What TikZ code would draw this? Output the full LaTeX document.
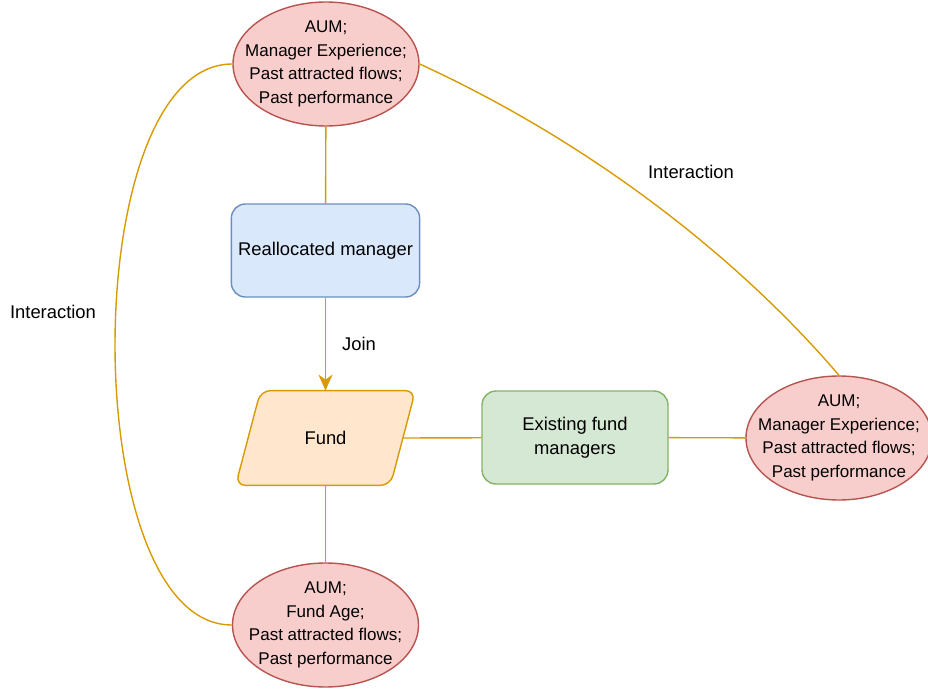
\documentclass[tikz,border=0pt]{standalone}
\usepackage{fontspec}
\setmainfont{Liberation Sans}
\usepackage{tikz}
\usetikzlibrary{arrows.meta,shapes.geometric,backgrounds}
\definecolor{attrfill}{HTML}{F8CECC}
\definecolor{attrline}{HTML}{B85450}
\definecolor{mgrfill}{HTML}{DAE8FC}
\definecolor{mgrline}{HTML}{6C8EBF}
\definecolor{fundfill}{HTML}{FFE6CC}
\definecolor{fundline}{HTML}{D79B00}
\definecolor{exfill}{HTML}{D5E8D4}
\definecolor{exline}{HTML}{82B366}
\tikzset{
	attr/.style={ellipse, draw=attrline, fill=attrfill, line width=0.7pt, minimum width=93pt, minimum height=62pt, inner xsep=-20pt, inner ysep=-10pt, align=center, font=\fontsize{8.5}{11.8}\selectfont},
	mgrbox/.style={rectangle, rounded corners=7pt, line width=0.7pt, minimum width=93pt, minimum height=46.5pt, align=center, font=\fontsize{9.2}{12}\selectfont},
	fundbox/.style={rectangle, minimum width=89.5pt, minimum height=47pt, inner sep=0pt, font=\fontsize{9.2}{12}\selectfont},
	fundshape/.style={draw=fundline, fill=fundfill, line width=0.7pt, rounded corners=5pt},
	link/.style={draw=fundline, line width=0.7pt},
	lbl/.style={font=\fontsize{9.2}{12}\selectfont, inner sep=0pt}
}
\begin{document}
\begin{tikzpicture}[x=0.5pt, y=-0.5pt]
		%%%%% START %%%%%
		\useasboundingbox (0, 0) rectangle (928, 690);
		
		\node[attr] (topattr) at (326, 64) {AUM;\\Manager Experience;\\Past attracted flows;\\Past performance};
		\node[mgrbox, draw=mgrline, fill=mgrfill] (realloc) at (325.5, 250.5) {Reallocated manager};
		\node[fundbox] (fund) at (325.5, 438) {Fund};
		\node[mgrbox, draw=exline, fill=exfill] (existing) at (575, 437.5) {Existing fund\\managers};
		\node[attr] (rightattr) at (839, 438) {AUM;\\Manager Experience;\\Past attracted flows;\\Past performance};
		\node[attr] (botattr) at (325.5, 625) {AUM;\\Fund Age;\\Past attracted flows;\\Past performance};
		
		\begin{scope}[on background layer]
		\draw[fundshape] ([xshift=12.5pt]fund.north west) -- (fund.north east) -- ([xshift=-12.5pt]fund.south east) -- (fund.south west) -- cycle;
		\end{scope}
		
		\node[lbl] (leftlbl) at (53, 312) {Interaction};
		\node[lbl] (rightlbl) at (691, 172) {Interaction};
		
		\draw[link] (topattr) -- (realloc);
		\draw[link, -{Stealth[length=8pt, width=7pt, inset=2.5pt]}] (realloc) -- (fund) node[lbl, midway, right=8pt] (joinlbl) {Join};
		\draw[link] ([xshift=-6.25pt]fund.east) -- (existing);
		\draw[link] (existing) -- (rightattr);
		\draw[link] (fund) -- (botattr);
		
		\draw[link] (topattr.west) .. controls (76, 64) and (76, 625) .. (botattr.west);
		\draw[link] (topattr.east) .. controls (598, 146) and (743, 263) .. (rightattr.north);
		
		%%%%% END %%%%%
	\end{tikzpicture}
\end{document}
